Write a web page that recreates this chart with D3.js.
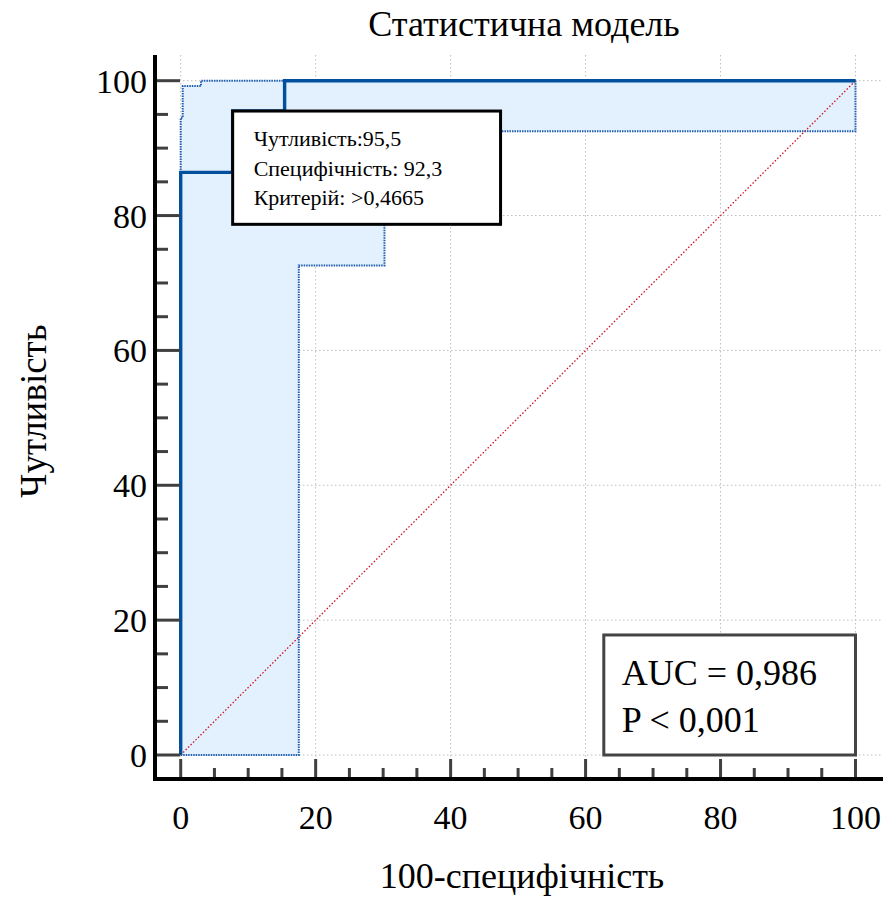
<!DOCTYPE html>
<html>
<head>
<meta charset="utf-8">
<script src="https://cdn.jsdelivr.net/npm/d3@7"></script>
<style>
  body { margin: 0; background: #fff; }
  svg { display: block; font-family: "Liberation Serif", "Times New Roman", serif; }
</style>
</head>
<body>
<svg id="chart" width="887" height="898"></svg>
<script>
// ROC curve (100-specificity, sensitivity)
var rocX = [0, 0, 7.7, 7.7, 15.4, 15.4, 100];
var rocY = [0, 86.4, 86.4, 95.5, 95.5, 100, 100];
// upper confidence bound
var upX = [0, 0, 0.3, 0.3, 3.0, 3.0, 100];
var upY = [0, 94.5, 94.5, 99.2, 99.2, 100, 100];
// lower confidence bound
var loX = [0, 17.5, 17.5, 30.2, 30.2, 100, 100];
var loY = [0, 0, 72.6, 72.6, 92.5, 92.5, 100];
var ticks = [0, 20, 40, 60, 80, 100];
var minorTicks = d3.range(0, 101, 5).filter(d => d % 20 !== 0);
var criterion = {sens: 95.5, fpr: 7.7};
var critLines = ['Чутливість:95,5', 'Специфічність: 92,3', 'Критерій: >0,4665'];
var aucLines = ['AUC = 0,986', 'P < 0,001'];

var svg = d3.select('#chart');
var x = d3.scaleLinear().domain([0, 100]).range([180.7, 855.5]);
var y = d3.scaleLinear().domain([0, 100]).range([755, 80.7]);
var pLeft = 155, pRight = 883, pTop = 55, pBottom = 779;

var pts = (xs, ys) => xs.map((v, i) => [v, ys[i]]);
var line = d3.line().x(d => x(d[0])).y(d => y(d[1]));

// grid
var grid = svg.append('g').attr('stroke', '#bdbdbd').attr('stroke-width', 1)
  .attr('stroke-dasharray', '1.5,2.5');
grid.selectAll('.gx').data(ticks).enter().append('line')
  .attr('x1', d => x(d)).attr('x2', d => x(d)).attr('y1', pTop).attr('y2', pBottom);
grid.selectAll('.gy').data(ticks).enter().append('line')
  .attr('y1', d => y(d)).attr('y2', d => y(d)).attr('x1', pLeft).attr('x2', pRight);

// confidence area
var band = pts(upX, upY).concat(pts(loX, loY).reverse());
svg.append('path').attr('d', line(band) + 'Z').attr('fill', '#e3f0fd');

// bounds
[pts(upX, upY), pts(loX, loY)].forEach(function(p){
  svg.append('path').attr('d', line(p)).attr('fill', 'none')
    .attr('stroke', '#1f5fb0').attr('stroke-width', 2)
    .attr('stroke-dasharray', '1.5,1');
});

// diagonal
svg.append('path').attr('d', line([[0, 0], [100, 100]]))
  .attr('stroke', '#d0101e').attr('stroke-width', 1.3)
  .attr('stroke-dasharray', '1.5,2').attr('fill', 'none');

// roc
svg.append('path').attr('d', line(pts(rocX, rocY))).attr('fill', 'none')
  .attr('stroke', '#00509e').attr('stroke-width', 3.4);

// axes
var ax = svg.append('g');
ax.selectAll('.ty').data(ticks).enter().append('line')
  .attr('x1', pLeft).attr('x2', pLeft + 25).attr('y1', d => y(d)).attr('y2', d => y(d))
  .attr('stroke', '#404040').attr('stroke-width', 3);
ax.selectAll('.tym').data(minorTicks).enter().append('line')
  .attr('x1', pLeft).attr('x2', pLeft + 13).attr('y1', d => y(d)).attr('y2', d => y(d))
  .attr('stroke', '#404040').attr('stroke-width', 3);
ax.selectAll('.tx').data(ticks).enter().append('line')
  .attr('y1', pBottom).attr('y2', pBottom - 20).attr('x1', d => x(d)).attr('x2', d => x(d))
  .attr('stroke', '#404040').attr('stroke-width', 3);
ax.selectAll('.txm').data(minorTicks).enter().append('line')
  .attr('y1', pBottom).attr('y2', pBottom - 11).attr('x1', d => x(d)).attr('x2', d => x(d))
  .attr('stroke', '#404040').attr('stroke-width', 3);
ax.append('line').attr('x1', pLeft).attr('x2', pLeft).attr('y1', pTop).attr('y2', pBottom + 2)
  .attr('stroke', '#000').attr('stroke-width', 4);
ax.append('line').attr('x1', pLeft - 2).attr('x2', pRight).attr('y1', pBottom).attr('y2', pBottom)
  .attr('stroke', '#000').attr('stroke-width', 4);

ax.selectAll('.lx').data(ticks).enter().append('text')
  .attr('x', d => x(d)).attr('y', 829).attr('text-anchor', 'middle')
  .attr('font-size', 34).text(d => d);
ax.selectAll('.ly').data(ticks).enter().append('text')
  .attr('x', 147).attr('y', d => y(d) + 12).attr('text-anchor', 'end')
  .attr('font-size', 34).text(d => d);

// titles
svg.append('text').attr('x', 524).attr('y', 36).attr('text-anchor', 'middle')
  .attr('font-size', 36).text('Статистична модель');
svg.append('text').attr('x', 522).attr('y', 888).attr('text-anchor', 'middle')
  .attr('font-size', 36).text('100-специфічність');
svg.append('text').attr('transform', 'translate(46,411) rotate(-90)')
  .attr('text-anchor', 'middle').attr('font-size', 37).text('Чутливість');

// criterion box
var cb = svg.append('g');
cb.append('rect').attr('x', x(criterion.fpr)).attr('y', y(criterion.sens))
  .attr('width', x(47.4) - x(criterion.fpr)).attr('height', y(78.7) - y(criterion.sens))
  .attr('fill', '#fff').attr('stroke', '#000').attr('stroke-width', 3);
cb.selectAll('text').data(critLines).enter().append('text')
  .attr('x', x(criterion.fpr) + 21).attr('y', (d, i) => y(criterion.sens) + 35 + i * 29.5)
  .attr('font-size', 22).text(d => d);

// auc box
var ab = svg.append('g');
ab.append('rect').attr('x', x(62.7)).attr('y', y(17.8))
  .attr('width', x(100) - x(62.7)).attr('height', y(0) - y(17.8))
  .attr('fill', '#fff').attr('stroke', '#444').attr('stroke-width', 3);
ab.selectAll('text').data(aucLines).enter().append('text')
  .attr('x', x(62.7) + 18).attr('y', (d, i) => 685 + i * 47)
  .attr('font-size', 36).text(d => d);
</script>
</body>
</html>
